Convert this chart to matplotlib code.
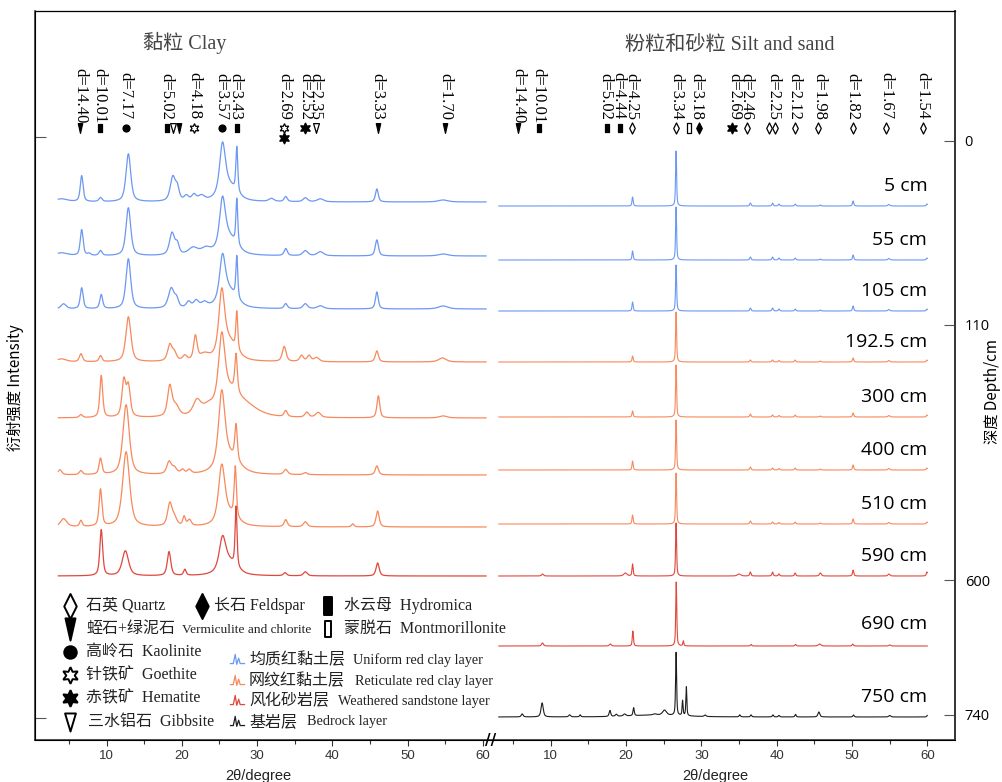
import numpy as np
import matplotlib
matplotlib.use("Agg")
import matplotlib.pyplot as plt
from matplotlib.path import Path

# ---------------- data ----------------
# every peak is (2theta, height above the trace baseline, fwhm)
clay_depths = ["5 cm", "55 cm", "105 cm", "192.5 cm", "300 cm", "400 cm", "510 cm", "590 cm"]
silt_depths = clay_depths + ["690 cm", "750 cm"]

clay_5 = [(4.0, 3, 2.0), (6.7, 26, 0.45), (9.2, 4, 0.5), (12.9, 48, 0.75), (18.8, 24, 0.8),
          (19.4, 12, 0.6), (20.6, 5, 0.7), (21.6, 6, 0.7), (22.6, 5, 1.0), (25.4, 48, 0.9),
          (26.2, 16, 2.5), (27.3, 45, 0.3), (31.9, 3, 0.8), (33.8, 5, 0.5), (36.4, 4, 0.7),
          (38.4, 3, 1.0), (45.9, 13, 0.45), (54.7, 2, 1.5)]
clay_55 = [(4.0, 3, 2.0), (6.7, 26, 0.45), (7.7, 2, 0.5), (9.2, 5, 0.5), (12.9, 48, 0.75),
           (18.7, 22, 0.8), (19.4, 10, 0.6), (21.5, 7, 1.5), (23.2, 6, 1.5), (25.4, 46, 0.9),
           (26.2, 18, 2.5), (27.3, 46, 0.3), (33.8, 7, 0.5), (36.4, 5, 0.8), (38.4, 4, 1.0),
           (45.9, 16, 0.5), (54.7, 2, 1.5)]
clay_105 = [(4.3, 5, 0.8), (6.7, 21, 0.45), (9.3, 14, 0.45), (12.9, 50, 0.75), (18.6, 20, 0.9),
            (19.3, 8, 0.6), (20.9, 6, 0.7), (21.9, 7, 0.8), (23.0, 5, 1.0), (25.4, 42, 0.9),
            (26.2, 18, 2.5), (27.3, 42, 0.3), (33.8, 5, 0.5), (36.4, 5, 0.7), (38.4, 3, 1.0),
            (45.9, 17, 0.45), (54.7, 3, 1.5)]
clay_192 = [(4.0, 3, 1.5), (6.6, 8, 0.5), (9.2, 6, 0.45), (12.9, 45, 0.8), (18.4, 16, 0.7),
            (19.0, 8, 0.7), (20.4, 5, 0.7), (21.8, 24, 0.55), (23.0, 6, 1.5), (25.3, 60, 0.9),
            (26.2, 20, 2.5), (27.3, 38, 0.3), (33.6, 15, 0.6), (35.9, 6, 0.6), (36.9, 6, 0.6),
            (37.9, 4, 0.8), (45.9, 11, 0.5), (54.6, 4, 1.2)]
clay_300 = [(6.6, 3, 0.5), (9.3, 42, 0.45), (12.3, 36, 0.6), (12.9, 30, 0.6), (18.4, 30, 0.7),
            (19.2, 10, 1.0), (22.0, 14, 1.2), (23.5, 8, 2.0), (25.3, 66, 1.0), (26.3, 22, 3.0),
            (27.2, 38, 0.4), (28.5, 10, 4.0), (33.8, 6, 0.5), (36.6, 5, 0.6), (38.1, 5, 0.8),
            (46.1, 22, 0.45), (54.7, 2, 1.2)]
clay_400 = [(3.8, 5, 0.6), (6.6, 4, 0.5), (9.2, 16, 0.45), (12.6, 70, 1.0), (18.3, 12, 0.7),
            (19.0, 6, 0.8), (20.1, 4, 0.6), (21.0, 4, 0.6), (25.3, 72, 1.0), (26.3, 18, 3.0),
            (27.2, 35, 0.4), (33.8, 5, 0.6), (36.4, 2, 0.6), (45.9, 9, 0.5)]
clay_510 = [(4.3, 8, 1.0), (6.6, 6, 0.4), (9.2, 37, 0.45), (12.6, 75, 1.1), (18.4, 22, 0.7),
            (19.0, 8, 0.8), (20.3, 9, 0.4), (21.0, 6, 0.6), (25.3, 55, 1.0), (26.3, 12, 2.5),
            (27.1, 50, 0.35), (33.8, 7, 0.5), (36.4, 5, 0.6), (42.7, 3, 0.4), (46.0, 16, 0.5)]
clay_590 = [(9.3, 46, 0.45), (12.5, 25, 1.0), (18.3, 24, 0.55), (20.4, 6, 0.4), (25.4, 30, 1.0),
            (26.2, 14, 2.5), (27.2, 60, 0.3), (33.7, 3, 0.5), (36.4, 4, 0.6), (46.0, 13, 0.5)]

silt_5 = [(20.86, 9, 0.18), (26.64, 55, 0.16), (36.5, 3, 0.2), (39.45, 3, 0.2), (40.3, 2, 0.2),
          (42.45, 2, 0.2), (45.8, 1, 0.2), (50.15, 5, 0.2), (54.9, 1.5, 0.3), (59.95, 2, 0.2)]
silt_55 = [(20.86, 9, 0.18), (26.64, 53, 0.16), (36.5, 3, 0.2), (39.45, 3, 0.2), (40.3, 2, 0.2),
           (42.45, 2, 0.2), (45.8, 1, 0.2), (50.15, 5, 0.2), (54.9, 1.5, 0.3), (59.95, 2, 0.2)]
silt_105 = [(20.86, 9, 0.18), (26.64, 46, 0.16), (36.5, 3, 0.2), (39.45, 3, 0.2), (40.3, 2, 0.2),
            (42.45, 2, 0.2), (45.8, 1, 0.2), (50.15, 5, 0.2), (54.9, 1.5, 0.3), (59.95, 2, 0.2)]
silt_192 = [(20.86, 6, 0.18), (26.64, 50, 0.16), (36.5, 2, 0.2), (39.45, 2, 0.2), (40.3, 1.5, 0.2),
            (42.45, 2, 0.2), (45.8, 1, 0.2), (50.15, 4, 0.2), (54.9, 1.5, 0.3), (59.95, 2, 0.2)]
silt_300 = [(20.86, 6, 0.18), (26.64, 52, 0.16), (36.5, 3, 0.2), (39.45, 2, 0.2), (40.3, 1.5, 0.2),
            (42.45, 2, 0.2), (45.8, 1, 0.2), (50.15, 4, 0.2), (54.9, 1.5, 0.3), (59.95, 2, 0.2)]
silt_400 = [(20.86, 9, 0.18), (26.64, 50, 0.16), (36.5, 3, 0.2), (39.45, 2, 0.2), (40.3, 1.5, 0.2),
            (42.45, 2, 0.2), (45.8, 1, 0.2), (50.15, 5, 0.2), (54.9, 1.5, 0.3), (59.95, 2, 0.2)]
silt_510 = [(20.86, 9, 0.18), (26.64, 51, 0.16), (36.5, 3, 0.2), (39.45, 2, 0.2), (40.3, 1.5, 0.2),
            (42.45, 2, 0.2), (45.8, 1, 0.2), (50.15, 5, 0.2), (54.9, 1.5, 0.3), (59.95, 2, 0.2)]
silt_590 = [(8.9, 2, 0.3), (19.9, 3, 0.5), (20.86, 12, 0.18), (26.64, 53, 0.16), (35.0, 2, 0.5),
            (36.5, 4, 0.2), (39.45, 4, 0.2), (40.3, 2, 0.2), (42.45, 3, 0.2), (45.8, 3, 0.3),
            (50.15, 6, 0.2), (54.9, 2, 0.3), (59.95, 4, 0.2)]
silt_690 = [(8.9, 3, 0.3), (17.9, 2, 0.3), (20.9, 15, 0.18), (26.66, 64, 0.16), (27.6, 5, 0.15),
            (36.6, 1.5, 0.2), (42.5, 1.5, 0.2), (45.7, 2, 0.4), (50.1, 2, 0.2), (55.0, 1, 0.3)]
silt_750 = [(6.2, 3, 0.3), (8.85, 14, 0.35), (12.5, 2, 0.3), (13.9, 2, 0.2), (17.85, 6, 0.25),
            (18.7, 2, 0.3), (19.8, 2, 0.4), (21.0, 8, 0.2), (23.8, 1, 0.5), (25.1, 5, 0.6),
            (24.0, 2, 8.0), (26.64, 63, 0.16), (27.5, 15, 0.15), (28.0, 29, 0.15), (30.5, 1.5, 0.3),
            (35.1, 2, 0.2), (36.6, 2, 0.2), (39.5, 2, 0.2), (40.3, 1.5, 0.2), (42.5, 2.5, 0.2),
            (45.6, 5, 0.3), (50.2, 2, 0.2), (55.0, 1.5, 0.3), (60.0, 1.5, 0.2)]

clay_peaks = [clay_5, clay_55, clay_105, clay_192, clay_300, clay_400, clay_510, clay_590]
silt_peaks = [silt_5, silt_55, silt_105, silt_192, silt_300, silt_400, silt_510, silt_590,
              silt_690, silt_750]
clay_layer = ["u", "u", "u", "r", "r", "r", "r", "w"]
silt_layer = ["u", "u", "u", "r", "r", "r", "r", "w", "w", "b"]

# d-spacing annotations: label, 2theta
clay_d_labels = ["d=14.40", "d=10.01", "d=7.17", "d=5.02", "d=4.18", "d=3.57", "d=3.43",
                 "d=2.69", "d=2.52", "d=2.35", "d=3.33", "d=1.70"]
clay_d_pos = [6.5, 9.1, 12.5, 17.9, 21.6, 25.3, 27.1, 33.6, 36.4, 37.8, 46.0, 55.0]
# mineral symbols under the labels: kind, 2theta, row
clay_marks = [("v", 6.5, 0), ("h", 9.1, 0), ("k", 12.6, 0), ("h", 18.05, 0), ("g", 18.8, 0),
              ("v", 19.6, 0), ("go", 21.6, 0), ("k", 25.3, 0), ("h", 27.3, 0), ("go", 33.6, 0),
              ("he", 33.6, 1), ("he", 36.4, 0), ("g", 37.8, 0), ("v", 46.0, 0), ("v", 55.0, 0)]

silt_d_labels = ["d=14.40", "d=10.01", "d=5.02", "d=4.44", "d=4.25", "d=3.34", "d=3.18",
                 "d=2.69", "d=2.46", "d=2.25", "d=2.12", "d=1.98", "d=1.82", "d=1.67", "d=1.54"]
silt_d_pos = [5.7, 8.4, 17.2, 18.95, 20.7, 26.7, 29.3, 34.4, 35.95, 39.5, 42.4, 45.7, 50.1,
              54.5, 59.4]
silt_marks = [("v", 5.7, 0), ("h", 8.4, 0), ("h", 17.4, 0), ("h", 19.2, 0), ("q", 20.8, 0),
              ("q", 26.6, 0), ("m", 28.4, 0), ("f", 29.7, 0), ("he", 34.1, 0), ("q", 36.0, 0),
              ("q", 39.0, 0), ("q", 39.75, 0), ("q", 42.4, 0), ("q", 45.5, 0), ("q", 50.1, 0),
              ("q", 54.5, 0), ("q", 59.4, 0)]

depth_ticks = ["0", "110", "600", "740"]

# ---------------- layout (plot units ~ pixels, right panel shifted) ----------------
OFF = 59.0                     # right panel 2theta shift along the shared x axis
clay_base = [538, 484, 431, 378, 322, 265, 213, 164]
silt_base = [534, 480, 429, 378, 323, 270, 216, 164, 94, 23]
label_y = [554, 500, 449, 398, 343, 290, 236, 184, 116, 43]
depth_tick_y = [599, 415, 160, 25]

colors = {"u": "#6b98f2", "r": "#f8895c", "w": "#e0473d", "b": "#1e1e1e"}
serif = ["Liberation Serif", "Noto Sans CJK SC"]
sans = ["Noto Sans CJK SC", "DejaVu Sans"]


def closed(verts):
    return Path(np.array(verts + [verts[0]], dtype=float), closed=True)


tall_diamond = closed([(0, 1), (0.5, 0), (0, -1), (-0.5, 0)])
tri_down = closed([(-0.45, 1), (0.45, 1), (0, -1)])
tri_open = closed([(-0.6, 1), (0.6, 1), (0, -1)])
rect = closed([(-0.42, -1), (0.42, -1), (0.42, 1), (-0.42, 1)])
star6 = (6, 1, 0)
# kind -> marker, face, size in key, size under labels
symbols = {
    "q": (tall_diamond, "white", 18, 8),
    "f": (tall_diamond, "black", 18, 8),
    "h": (rect, "black", 13, 6),
    "m": (rect, "white", 11, 7),
    "v": (tri_down, "black", 16, 7),
    "k": ("o", "black", 9, 5),
    "go": (star6, "white", 12, 7),
    "he": (star6, "black", 12, 8),
    "g": (tri_open, "white", 13, 7),
}


def profile(x, peaks):
    y = np.zeros_like(x)
    for c, h, w in peaks:
        d = (x - c) / (w / 2)
        y += h * (0.6 / (1 + d ** 2) + 0.4 * np.exp(-np.log(2) * d ** 2))
    return y


def ax_pt(px, py):
    # pixel position of the reference -> axes fraction
    return (px - 35) / 920, (740 - py) / 729


fig = plt.figure(figsize=(10.03, 7.82), dpi=100)
ax = fig.add_axes([35 / 1003, 42 / 782, 920 / 1003, 729 / 782])

x_clay = np.linspace(3.6, 60.4, 2500)
for peaks, base, lay in zip(clay_peaks, clay_base, clay_layer):
    ax.plot(x_clay, base + profile(x_clay, peaks), color=colors[lay], lw=0.9)

x_silt = np.linspace(3.1, 60.0, 5000)
for peaks, base, lay in zip(silt_peaks, silt_base, silt_layer):
    ax.plot(x_silt + OFF, base + profile(x_silt, peaks), color=colors[lay], lw=0.8)

for name, y in zip(silt_depths, label_y):
    ax.text(60 + OFF, y, name, ha="right", va="center", fontsize=14, family="Open Sans")

# d-spacing labels with mineral symbols
for lab, pos in zip(clay_d_labels, clay_d_pos):
    ax.text(pos, 644, lab, rotation=270, ha="center", va="center", fontsize=12, family=serif)
for lab, pos in zip(silt_d_labels, silt_d_pos):
    ax.text(pos + OFF, 644, lab, rotation=270, ha="center", va="center", fontsize=12, family=serif)
for marks, shift in ((clay_marks, 0), (silt_marks, OFF)):
    for kind, pos, row in marks:
        mk, face, _, ms = symbols[kind]
        ax.plot(pos + shift, 612 - 10 * row, marker=mk, ms=ms, mfc=face, mec="black", mew=0.9,
                ls="none")

ax.text(*ax_pt(185, 43), "黏粒 Clay", transform=ax.transAxes, ha="center", va="center",
        fontsize=14.5, family=serif, color="#444")
ax.text(*ax_pt(730, 45), "粉粒和砂粒 Silt and sand", transform=ax.transAxes, ha="center",
        va="center", fontsize=14.5, family=serif, color="#444")

# mineral key
key = [("q", 70, 606, "石英 Quartz", 86), ("f", 202, 606, "长石 Feldspar", 214),
       ("h", 328, 606, "水云母  Hydromica", 344), ("v", 70, 629, "蛭石+绿泥石", 86),
       ("m", 328, 629, "蒙脱石  Montmorillonite", 344), ("k", 70, 652, "高岭石  Kaolinite", 86),
       ("go", 70, 675, "针铁矿  Goethite", 86), ("he", 70, 698, "赤铁矿  Hematite", 86),
       ("g", 70, 722, "三水铝石  Gibbsite", 88)]
for kind, mx, my, text, tx in key:
    mk, face, ms, _ = symbols[kind]
    ax.plot(*ax_pt(mx, my), marker=mk, ms=ms, mfc=face, mec="black", mew=1.4, ls="none",
            transform=ax.transAxes)
    ax.text(*ax_pt(tx, my), text, transform=ax.transAxes, ha="left", va="center",
            fontsize=11.5, family=serif, color="#222")
ax.text(*ax_pt(182, 630), "Vermiculite and chlorite", transform=ax.transAxes, ha="left",
        va="center", fontsize=9.6, family=serif, color="#222")

# layer key with little pattern icons
icon = Path([(-1, -0.4), (-0.55, -0.4), (-0.3, 0.8), (-0.1, -0.5), (0.15, 0.3), (0.35, -0.4),
             (1, -0.4)])
layer_key = [("u", 660, "均质红黏土层", "Uniform red clay layer", 353),
             ("r", 681, "网纹红黏土层", "Reticulate red clay layer", 355),
             ("w", 701, "风化砂岩层", "Weathered sandstone layer", 338),
             ("b", 722, "基岩层", "Bedrock layer", 307)]
for lay, my, zh, en, ex in layer_key:
    ax.plot(*ax_pt(237, my), marker=icon, ms=11, mfc="none", mec=colors[lay], mew=0.9,
            ls="none", transform=ax.transAxes)
    ax.text(*ax_pt(249, my), zh, transform=ax.transAxes, ha="left", va="center",
            fontsize=11.5, family=serif, color="#222")
    ax.text(*ax_pt(ex, my), en, transform=ax.transAxes, ha="left", va="center",
            fontsize=10.3, family=serif, color="#222")

# axes, ticks, break mark
ax.set_xlim(0.5, 122.68)
ax.set_ylim(0, 729)
major = [10, 20, 30, 40, 50, 60]
ax.set_xticks(major + [m + OFF for m in major])
ax.set_xticklabels([str(m) for m in major] * 2)
ax.set_xticks([5, 15, 25, 35, 45, 55] + [m + OFF for m in (5, 15, 25, 35, 45, 55)], minor=True)
ax.tick_params(axis="x", which="both", direction="out", length=4, width=0.8, colors="#333",
               labelsize=9.5, pad=3)
ax.tick_params(axis="x", which="minor", length=3)
for lbl in ax.get_xticklabels():
    lbl.set_family("Liberation Sans")
ax.set_yticks([603, 22])
ax.set_yticklabels([])
ax.tick_params(axis="y", direction="in", length=8, width=0.8, colors="#555")
for side in ("left", "bottom", "right"):
    ax.spines[side].set_color("#333")
    ax.spines[side].set_linewidth(1.2)
ax.spines["top"].set_color("#888")
ax.spines["top"].set_linewidth(1.0)
ax.text(61.05, 0, "//", ha="center", va="center", fontsize=11, fontweight="bold")

ax2 = ax.twinx()
ax2.set_ylim(0, 729)
ax2.set_yticks(depth_tick_y)
ax2.set_yticklabels(depth_ticks, fontsize=10.5, family="Open Sans")
ax2.tick_params(axis="y", direction="in", length=8, width=0.8, colors="#555", pad=7)
for lbl in ax2.get_yticklabels():
    lbl.set_color("black")
ax2.spines["right"].set_color("#333")
ax2.spines["right"].set_linewidth(1.2)

fig.text(15 / 1003, 1 - 388 / 782, "衍射强度 Intensity", rotation=90, ha="center", va="center",
         fontsize=11, family=sans)
fig.text(993 / 1003, 1 - 392 / 782, "深度 Depth/cm", rotation=90, ha="center", va="center",
         fontsize=11, family=sans)
for cx in (258, 715):
    fig.text(cx / 1003, 1 - 776 / 782, "2θ/degree", ha="center", va="center", fontsize=10.5,
             family="Liberation Sans", color="#222")

fig.savefig("out.png", dpi=100)
